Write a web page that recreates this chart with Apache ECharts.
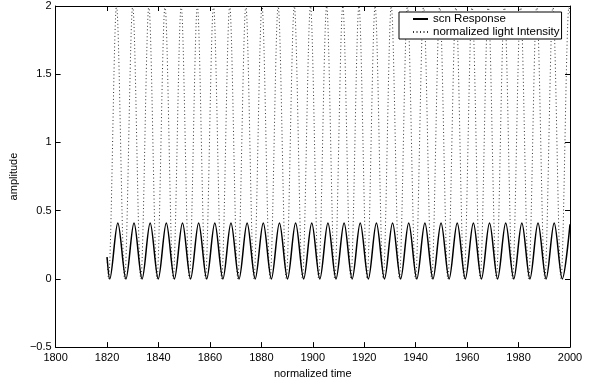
<!DOCTYPE html>
<html><head><meta charset="utf-8">
<script src="https://cdn.jsdelivr.net/npm/echarts@6/dist/echarts.min.js"></script>
<style>html,body{margin:0;padding:0;background:#fff}#c{width:590px;height:384px}</style>
</head><body><div id="c"></div>
<script>
// x range / ticks
const xMin = 1800, xMax = 2000, xStep = 20;
const yMin = -0.5, yMax = 2, yStep = 0.5;

// scn Response: start point, alternating troughs/peaks, end point
const scnTimes = [1820,
  1821.05, 1824.19, 1827.34, 1830.48, 1833.62, 1836.76, 1839.90, 1843.04, 1846.19, 1849.33,
  1852.47, 1855.61, 1858.75, 1861.89, 1865.04, 1868.18, 1871.32, 1874.46, 1877.60, 1880.74,
  1883.89, 1887.03, 1890.17, 1893.31, 1896.45, 1899.59, 1902.74, 1905.88, 1909.02, 1912.16,
  1915.30, 1918.44, 1921.59, 1924.73, 1927.87, 1931.01, 1934.15, 1937.29, 1940.44, 1943.58,
  1946.72, 1949.86, 1953.00, 1956.15, 1959.29, 1962.43, 1965.57, 1968.71, 1971.85, 1975.00,
  1978.14, 1981.28, 1984.42, 1987.56, 1990.70, 1993.85, 1996.99,
  2000];
const scnValues = [0.16,
  0, 0.41, 0, 0.41, 0, 0.41, 0, 0.41, 0, 0.41,
  0, 0.41, 0, 0.41, 0, 0.41, 0, 0.41, 0, 0.41,
  0, 0.41, 0, 0.41, 0, 0.41, 0, 0.41, 0, 0.41,
  0, 0.41, 0, 0.41, 0, 0.41, 0, 0.41, 0, 0.41,
  0, 0.41, 0, 0.41, 0, 0.41, 0, 0.41, 0, 0.41,
  0, 0.41, 0, 0.41, 0, 0.41, 0,
  0.40];

// normalized light Intensity: start point, alternating troughs/peaks, end point
const lightTimes = [1820,
  1820.55, 1823.69, 1826.84, 1829.98, 1833.12, 1836.26, 1839.40, 1842.54, 1845.69, 1848.83,
  1851.97, 1855.11, 1858.25, 1861.39, 1864.54, 1867.68, 1870.82, 1873.96, 1877.10, 1880.24,
  1883.39, 1886.53, 1889.67, 1892.81, 1895.95, 1899.09, 1902.24, 1905.38, 1908.52, 1911.66,
  1914.80, 1917.94, 1921.09, 1924.23, 1927.37, 1930.51, 1933.65, 1936.79, 1939.94, 1943.08,
  1946.22, 1949.36, 1952.50, 1955.65, 1958.79, 1961.93, 1965.07, 1968.21, 1971.35, 1974.50,
  1977.64, 1980.78, 1983.92, 1987.06, 1990.20, 1993.35, 1996.49, 1999.63,
  2000];
const lightValues = [0.15,
  0, 2, 0, 2, 0, 2, 0, 2, 0, 2,
  0, 2, 0, 2, 0, 2, 0, 2, 0, 2,
  0, 2, 0, 2, 0, 2, 0, 2, 0, 2,
  0, 2, 0, 2, 0, 2, 0, 2, 0, 2,
  0, 2, 0, 2, 0, 2, 0, 2, 0, 2,
  0, 2, 0, 2, 0, 2, 0, 2,
  1.93];

const seriesNames = ['scn Response', 'normalized light Intensity'];
const xName = 'normalized time';
const yName = 'amplitude';

const FONT = "'Liberation Sans', Arial, Helvetica, sans-serif";
const pair = (xs, ys) => xs.map((x, i) => [x, ys[i]]);
const fmtY = v => String(v).replace('-', '\u2212');
const fmtX = v => String(v);

const chart = echarts.init(document.getElementById('c'), null, {renderer: 'canvas'});
const tickStyle = {show: true, inside: true, length: 5, lineStyle: {color: '#000', width: 1}};
const lineStyleAxis = {show: true, onZero: false, lineStyle: {color: '#000', width: 1}};

chart.setOption({
  animation: false,
  backgroundColor: '#fff',
  grid: {left: 53, right: 20, top: 6, bottom: 28, containLabel: false},
  legend: {
    data: [
      {name: seriesNames[0]},
      {name: seriesNames[1]}
    ],
    orient: 'vertical',
    left: 399, top: 12,
    itemWidth: 15, itemHeight: 10, itemGap: 1,
    padding: [1, 2, 1, 13],
    borderColor: '#000', borderWidth: 1, backgroundColor: '#fff',
    itemStyle: {opacity: 0},
    textStyle: {fontFamily: FONT, fontSize: 11.5, color: '#000', lineHeight: 12}
  },
  xAxis: [{
    type: 'value', min: xMin, max: xMax, interval: xStep,
    name: xName, nameLocation: 'middle', nameGap: 17,
    nameTextStyle: {fontFamily: FONT, fontSize: 11, color: '#000'},
    axisLine: lineStyleAxis, axisTick: tickStyle,
    axisLabel: {fontFamily: FONT, fontSize: 11, color: '#000', margin: 5, formatter: fmtX},
    splitLine: {show: false}
  }, {
    type: 'value', min: xMin, max: xMax, interval: xStep, position: 'top',
    axisLine: lineStyleAxis, axisTick: tickStyle,
    axisLabel: {show: false}, splitLine: {show: false}
  }],
  yAxis: [{
    type: 'value', min: yMin, max: yMax, interval: yStep,
    name: yName, nameLocation: 'middle', nameGap: 28,
    nameTextStyle: {fontFamily: FONT, fontSize: 11, color: '#000'},
    axisLine: lineStyleAxis, axisTick: tickStyle,
    axisLabel: {fontFamily: FONT, fontSize: 11, color: '#000', margin: 4, formatter: fmtY},
    splitLine: {show: false}
  }, {
    type: 'value', min: yMin, max: yMax, interval: yStep, position: 'right',
    axisLine: lineStyleAxis, axisTick: tickStyle,
    axisLabel: {show: false}, splitLine: {show: false}
  }],
  series: [{
    name: seriesNames[0], type: 'line', xAxisIndex: 0, yAxisIndex: 0,
    data: pair(scnTimes, scnValues),
    smooth: 0.33, symbol: 'none', showSymbol: false,
    lineStyle: {color: '#000', width: 1.5, type: 'solid'},
    itemStyle: {color: '#000'}, z: 3
  }, {
    name: seriesNames[1], type: 'line', xAxisIndex: 0, yAxisIndex: 0,
    data: pair(lightTimes, lightValues),
    smooth: 0.33, symbol: 'none', showSymbol: false,
    lineStyle: {color: '#333', width: 1, type: [1, 2.5]},
    itemStyle: {color: '#000'}, z: 2
  }]
});
</script>
</body></html>
